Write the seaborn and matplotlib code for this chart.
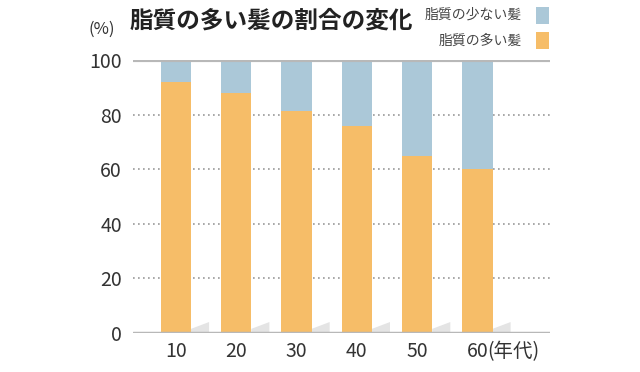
import pandas as pd
import seaborn as sns
import matplotlib.pyplot as plt
from matplotlib.patches import Polygon

# data
ages = ["10", "20", "30", "40", "50", "60"]
oily = [92, 88, 81.5, 76, 65, 60]
total = [100, 100, 100, 100, 100, 100]

df = pd.DataFrame({"age": ages, "oily": oily, "total": total})

sns.set_theme(style="white")
plt.rcParams['font.family'] = ['Noto Sans CJK JP', 'DejaVu Sans']

blue = "#abc8d8"
orange = "#f6bd68"
grey = "#b8b8b8"

fig = plt.figure(figsize=(6.4, 3.72), dpi=100)
ax = fig.add_axes([0.208, 0.105, 0.652, 0.733])

sns.barplot(data=df, x="age", y="total", color=blue, width=0.5, saturation=1,
            linewidth=0, ax=ax, zorder=3)
sns.barplot(data=df, x="age", y="oily", color=orange, width=0.5, saturation=1,
            linewidth=0, ax=ax, zorder=3)

# little floor shadow behind each bar
for i in range(len(ages)):
    shadow = Polygon([(i + 0.25, 0), (i + 0.25, 1.5), (i + 0.55, 4), (i + 0.55, 0)],
                     closed=True, facecolor="#e4e4e4", edgecolor="none", zorder=2)
    ax.add_patch(shadow)

ax.set_xlim(-0.71, 6.21)
ax.set_ylim(0, 100)
ax.set_yticks([0, 20, 40, 60, 80, 100])
for y in [20, 40, 60, 80]:
    ax.axhline(y, color="#999999", linestyle=(0, (1, 2)), linewidth=1.2, zorder=1)
ax.axhline(100, color=grey, linewidth=3, zorder=4)
ax.axhline(0, color=grey, linewidth=2.5, zorder=4)

for s in ax.spines.values():
    s.set_visible(False)
ax.set_xlabel("")
ax.set_ylabel("")
ax.tick_params(axis="both", length=0, labelsize=14, colors="#333333")
ax.tick_params(axis="x", pad=6)
ax.tick_params(axis="y", pad=8)

ax.annotate("(年代)", xy=(5.17, 0), xycoords=ax.get_xaxis_transform(),
            xytext=(0, -6), textcoords="offset points", fontsize=14,
            color="#333333", va="top", ha="left")

fig.text(0.138, 0.92, "(%)", fontsize=12, color="#333333", ha="left", va="center")
fig.text(0.203, 0.945, "脂質の多い髪の割合の変化", fontsize=17, fontweight="bold",
         color="#222222", ha="left", va="center")

fig.text(0.815, 0.96, "脂質の少ない髪", fontsize=10, color="#444444", ha="right", va="center")
fig.text(0.815, 0.89, "脂質の多い髪", fontsize=10, color="#444444", ha="right", va="center")
fig.patches.append(plt.Rectangle((0.838, 0.935), 0.02, 0.045, transform=fig.transFigure,
                                 facecolor=blue, edgecolor="none"))
fig.patches.append(plt.Rectangle((0.838, 0.868), 0.02, 0.045, transform=fig.transFigure,
                                 facecolor=orange, edgecolor="none"))

fig.savefig("out.png", dpi=100)
